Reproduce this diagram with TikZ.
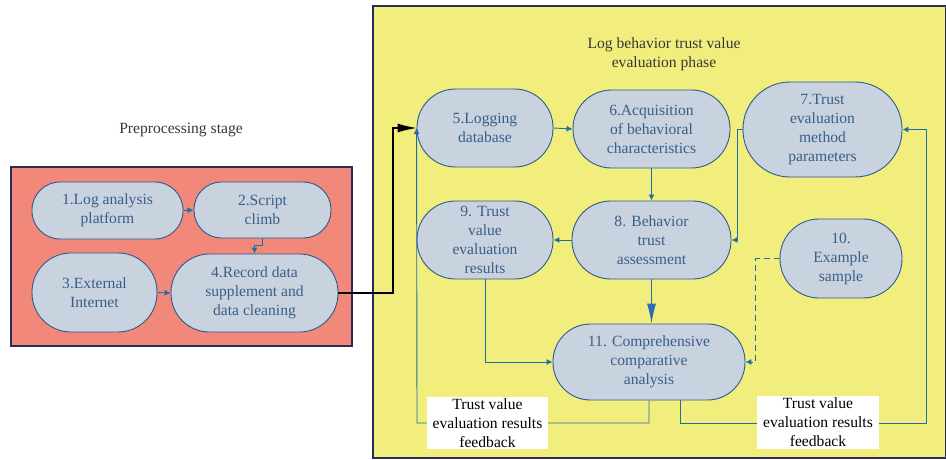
\documentclass[tikz,border=0pt]{standalone}
\usepackage{fontspec}
\setmainfont{Liberation Serif}
\usetikzlibrary{arrows.meta,calc}
\definecolor{redfill}{RGB}{242,136,122}
\definecolor{yelfill}{RGB}{242,238,126}
\definecolor{boxedge}{RGB}{40,44,90}
\definecolor{nodefill}{RGB}{201,211,223}
\definecolor{nodeedge}{RGB}{44,90,138}
\definecolor{nodetext}{RGB}{58,94,135}
\definecolor{linkc}{RGB}{27,112,168}
\definecolor{bigarr}{RGB}{46,106,184}
\definecolor{titlec}{RGB}{55,55,55}
\tikzset{
  proc/.style={draw=nodeedge, line width=0.9pt, fill=nodefill, text=nodetext,
    align=center, inner sep=0pt, font=\fontsize{15.6}{19}\selectfont},
  link/.style={draw=linkc, line width=0.9pt, -{Latex[length=6pt,width=6pt]}},
  fb/.style={fill=white, text=black, align=center, inner xsep=6pt, inner ysep=2pt, font=\fontsize{15.6}{19}\selectfont},
  ttl/.style={text=titlec, align=center, font=\fontsize{15.6}{19}\selectfont},
}
\newcommand{\procnode}[6]{%
  \node[proc, minimum width=#4pt, minimum height=#5pt, rounded corners=#6pt] (#1) at (#2,#3)}
\begin{document}
\begin{tikzpicture}[x=1pt,y=-1pt]
\useasboundingbox (0,0) rectangle (946,460);
% panels
\draw[boxedge, line width=1.1pt, fill=redfill] (11,167) rectangle (352,346);
\draw[boxedge, line width=1.1pt, fill=yelfill] (373,6) rectangle (945.4,458);
\node[ttl] (t1) at (181,130) {Preprocessing stage};
\node[ttl] (t2) at (664,54) {Log behavior trust value\\evaluation phase};
% nodes
\procnode{n1}{107.5}{210.5}{151}{57}{28} {1.Log analysis\\platform};
\procnode{n2}{262.5}{210}{137}{56}{27.5} {2.Script\\climb};
\procnode{n3}{94.5}{292.5}{125}{79}{39} {3.External\\Internet};
\procnode{n4}{254.5}{293}{167}{78}{38.5} {4.Record data\\supplement and\\data cleaning};
\procnode{n5}{485}{128}{136}{78}{38.5} {5.Logging\\database};
\procnode{n6}{651.5}{129}{157}{78}{38.5} {6.Acquisition\\of behavioral\\characteristics};
\procnode{n7}{822.5}{129.5}{159}{95}{47} {7.Trust\\evaluation\\method\\parameters};
\procnode{n9}{485}{240}{136}{78}{38.5} {9. Trust\\value\\evaluation\\results};
\procnode{n8}{651.5}{240}{159}{78}{38.5} {8. Behavior\\trust\\assessment};
\procnode{n10}{841}{258.5}{122}{79}{39} {10.\\Example\\sample};
\procnode{n11}{649}{362}{192}{76}{37.5} {11. Comprehensive\\comparative\\analysis};
% coordinates
\coordinate (c4) at (393,293);
\coordinate (cl) at (417,423);
\coordinate (cr) at (926,423);
% connectors
\draw[link] (n1.east) -- (n2.west);
\draw[link] (n2.south) -- ++(0,7) -| (n4.north);
\draw[link] (n3.east) -- (n4.west);
\draw[black, line width=1.1pt, -{Latex[length=19pt,width=9pt]}] (n4.east) -- (c4) |- (n5.west);
\draw[link] (n5.east) -- (n6.west);
\draw[link] (n6.south) -- (n6.south |- n8.north);
\draw[link] (n7.west) -- ++(-5,0) |- (n8.east);
\draw[link] (n8.west) -- (n9.east);
\draw[draw=bigarr, line width=1.1pt, -{Latex[length=20pt,width=9pt]}] (n8.south) -- (n8.south |- n11.north);
\draw[link] (n9.south) |- (n11.west);
\draw[link, dashed, dash pattern=on 6pt off 4pt] (n10.west) -- ++(-24,0) |- (n11.east);
\draw[link] (n11.south) |- (cl) -- (n5.west);
\draw[link] ($(n11.south)+(31,0)$) |- (cr) |- (n7.east);
% labels
\node[fb] (l1) at (487.5,423) {Trust value\\evaluation results\\feedback};
\node[fb] (l2) at (818,422.5) {Trust value\\evaluation results\\feedback};
\end{tikzpicture}
\end{document}
